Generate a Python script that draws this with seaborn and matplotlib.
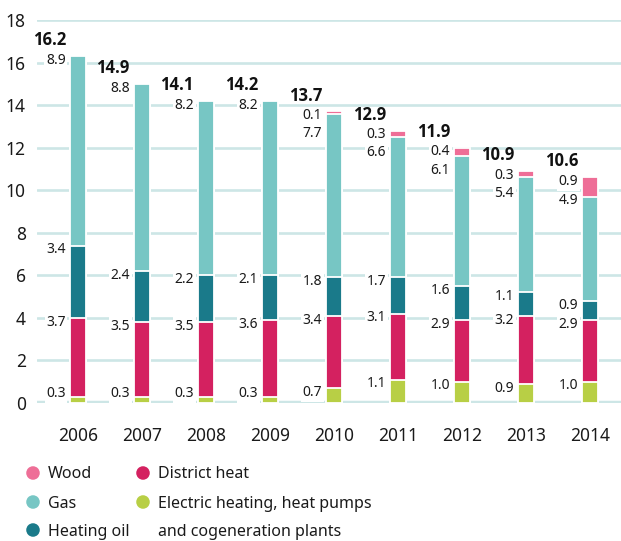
import numpy as np
import pandas as pd
import matplotlib
matplotlib.use("Agg")
import matplotlib.pyplot as plt
import seaborn as sns

years = ["2006", "2007", "2008", "2009", "2010", "2011", "2012", "2013", "2014"]
electric = [0.3, 0.3, 0.3, 0.3, 0.7, 1.1, 1.0, 0.9, 1.0]
district = [3.7, 3.5, 3.5, 3.6, 3.4, 3.1, 2.9, 3.2, 2.9]
oil = [3.4, 2.4, 2.2, 2.1, 1.8, 1.7, 1.6, 1.1, 0.9]
gas = [8.9, 8.8, 8.2, 8.2, 7.7, 6.6, 6.1, 5.4, 4.9]
wood = [0.0, 0.0, 0.0, 0.0, 0.1, 0.3, 0.4, 0.3, 0.9]
totals = [16.2, 14.9, 14.1, 14.2, 13.7, 12.9, 11.9, 10.9, 10.6]
yticks = [0, 2, 4, 6, 8, 10, 12, 14, 16, 18]

names = ["Electric heating, heat pumps and cogeneration plants", "District heat",
         "Heating oil", "Gas", "Wood"]
colors = ["#b8cf45", "#d42160", "#1a7a8a", "#77c6c4", "#ee6e97"]
values = [electric, district, oil, gas, wood]

sns.set_theme(style="white")
plt.rcParams["font.family"] = ["Noto Sans", "DejaVu Sans"]

fig = plt.figure(figsize=(6.21, 5.41), dpi=100)
ax = fig.add_axes([37 / 621, 138 / 541, 584 / 621, 383 / 541])

stack = np.array(values)
cum = np.cumsum(stack, axis=0)

for k in range(len(values) - 1, -1, -1):
    df = pd.DataFrame({"year": years, "value": cum[k]})
    sns.barplot(data=df, x="year", y="value", color=colors[k], saturation=1,
                width=0.25, edgecolor="white", linewidth=1.3, ax=ax, zorder=2)

ax.set_xlim(-0.64, 8.48)
ax.set_ylim(0, 18)
ax.set_yticks(yticks)
ax.set_yticklabels([str(t) for t in yticks])
ax.set_xlabel("")
ax.set_ylabel("")
for s in ax.spines.values():
    s.set_visible(False)
ax.yaxis.grid(True, color="#cde6e6", linewidth=1.9, zorder=0)
ax.xaxis.grid(False)
ax.set_axisbelow(True)
ax.axhline(0, color="#cde6e6", linewidth=3.2, zorder=1)
ax.tick_params(axis="y", length=0, pad=8, labelsize=12.5, labelcolor="#1a1a1a")
ax.tick_params(axis="x", length=0, pad=17, labelsize=12.5, labelcolor="#1a1a1a")

# segment labels and totals
for i in range(len(years)):
    prev = np.inf
    first = None
    for k in range(len(values) - 1, -1, -1):
        v = values[k][i]
        if v <= 0:
            continue
        top = cum[k][i]
        y = max(top - 0.2, 0.45)
        if y > prev - 0.85:
            y = prev - 0.85
        prev = y
        if first is None:
            first = y
        ax.text(i - 0.19, y, f"{v:.1f}", ha="right", va="center", fontsize=10,
                color="#1a1a1a", zorder=5,
                bbox=dict(boxstyle="square,pad=0.12", fc="white", ec="none"))
    ax.text(i - 0.19, first + 0.95, f"{totals[i]:.1f}", ha="right", va="center",
            fontsize=12, fontweight="bold", family=["Open Sans", "DejaVu Sans"],
            color="#111111", zorder=5)

# legend
lax = fig.add_axes([0, 0, 1, 1], zorder=-1)
lax.set_xlim(0, 621)
lax.set_ylim(541, 0)
lax.axis("off")
legend_items = [
    (33, 473, colors[4], "Wood"),
    (33, 502, colors[3], "Gas"),
    (33, 530, colors[2], "Heating oil"),
    (143, 473, colors[1], "District heat"),
    (143, 502, colors[0], "Electric heating, heat pumps"),
]
for x, y, c, label in legend_items:
    lax.scatter([x], [y], s=95, color=c, edgecolor="none")
    lax.text(x + 15, y + 5.5, label, ha="left", va="baseline", fontsize=11.5,
             color="#1a1a1a")
lax.text(158, 530 + 5.5, "and cogeneration plants", ha="left", va="baseline",
         fontsize=11.5, color="#1a1a1a")

fig.savefig("out.png", dpi=100)
